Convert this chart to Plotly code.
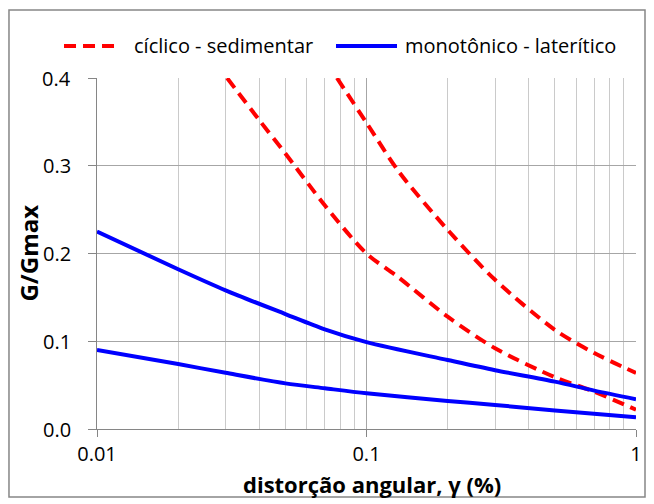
import plotly.graph_objects as go

# cyclic tests, sedimentary soil (two curves)
ciclico_1_x = [0.0304, 0.04, 0.05, 0.07, 0.1, 0.13, 0.2, 0.3, 0.5, 0.7, 1.0]
ciclico_1_y = [0.400, 0.352, 0.314, 0.255, 0.200, 0.174, 0.128, 0.092, 0.059, 0.0425, 0.022]
ciclico_2_x = [0.0777, 0.1, 0.132, 0.2, 0.3, 0.5, 0.7, 1.0]
ciclico_2_y = [0.400, 0.349, 0.293, 0.227, 0.170, 0.113, 0.0866, 0.0638]

# monotonic tests, lateritic soil (two curves)
monotonico_1_x = [0.01, 0.02, 0.03, 0.05, 0.07, 0.1, 0.2, 0.3, 0.5, 0.7, 1.0]
monotonico_1_y = [0.225, 0.182, 0.158, 0.131, 0.1136, 0.099, 0.0786, 0.067, 0.054, 0.0437, 0.034]
monotonico_2_x = [0.01, 0.02, 0.03, 0.05, 0.07, 0.1, 0.2, 0.3, 0.5, 1.0]
monotonico_2_y = [0.090, 0.074, 0.064, 0.052, 0.0464, 0.0407, 0.032, 0.0274, 0.021, 0.0133]

legend_labels = ["cíclico - sedimentar", "monotônico - laterítico"]
y_ticks = [0.0, 0.1, 0.2, 0.3, 0.4]
x_title = "<b>distorção angular, γ (%)</b>"
y_title = "<b>G/Gmax</b>"

RED = "#FF0000"
BLUE = "#0000FF"
FONT = "Open Sans"
RED_DASH = "12px,7px"

fig = go.Figure()

red_line = dict(color=RED, width=4, dash=RED_DASH, shape="spline", smoothing=0.8)
blue_line = dict(color=BLUE, width=4, shape="spline", smoothing=0.8)

fig.add_trace(go.Scatter(x=ciclico_1_x, y=ciclico_1_y, mode="lines", line=red_line,
                         name=legend_labels[0], showlegend=False))
fig.add_trace(go.Scatter(x=ciclico_2_x, y=ciclico_2_y, mode="lines", line=red_line,
                         name=legend_labels[0], showlegend=False))
fig.add_trace(go.Scatter(x=monotonico_1_x, y=monotonico_1_y, mode="lines", line=blue_line,
                         name=legend_labels[1], showlegend=False))
fig.add_trace(go.Scatter(x=monotonico_2_x, y=monotonico_2_y, mode="lines", line=blue_line,
                         name=legend_labels[1], showlegend=False))

# legend row above the plot: line keys and their labels
LEG_Y = 1.0912
shapes = [
    dict(type="line", xref="paper", yref="paper", x0=-0.0612, x1=0.039, y0=LEG_Y, y1=LEG_Y,
         line=dict(color=RED, width=4, dash=RED_DASH)),
    dict(type="line", xref="paper", yref="paper", x0=0.4434, x1=0.5566, y0=LEG_Y, y1=LEG_Y,
         line=dict(color=BLUE, width=4)),
    # chart frame
    dict(type="rect", xref="paper", yref="paper",
         x0=-0.1633, x1=1.0167, y0=-0.1937, y1=1.1937,
         line=dict(color="#868686", width=1.5), fillcolor="rgba(0,0,0,0)", layer="below"),
]
annotations = [
    dict(text=legend_labels[0], xref="paper", yref="paper", x=0.0649, y=LEG_Y,
         xanchor="left", yanchor="middle", showarrow=False,
         font=dict(family=FONT, size=20, color="black")),
    dict(text=legend_labels[1], xref="paper", yref="paper", x=0.5677, y=LEG_Y,
         xanchor="left", yanchor="middle", showarrow=False,
         font=dict(family=FONT, size=20, color="black")),
    # axis titles
    dict(text=x_title, xref="paper", yref="paper", x=0.51, y=-0.158,
         xanchor="center", yanchor="middle", showarrow=False,
         font=dict(family=FONT, size=22, color="black")),
    dict(text=y_title, xref="paper", yref="paper", x=-0.128, y=0.5, textangle=-90,
         xanchor="center", yanchor="middle", showarrow=False,
         font=dict(family=FONT, size=24, color="black")),
]
# y tick labels, set a little further from the tick marks
for v in y_ticks:
    annotations.append(dict(text=f"{v:.1f}", xref="paper", yref="y", x=-0.0445, y=v,
                            xanchor="right", yanchor="middle", showarrow=False,
                            font=dict(family=FONT, size=20, color="black")))

fig.update_layout(
    width=654, height=504,
    margin=dict(l=97, r=18, t=78, b=75),
    paper_bgcolor="white", plot_bgcolor="white",
    font=dict(family=FONT, size=20, color="black"),
    showlegend=False,
    xaxis=dict(
        type="log", range=[-2, 0], dtick=1,
        showgrid=True, gridcolor="#A6A6A6", gridwidth=1,
        minor=dict(dtick="D1", showgrid=True, gridcolor="#CACACA", gridwidth=1),
        ticks="outside", ticklen=7, tickcolor="#868686",
        showline=True, linecolor="#868686", linewidth=1,
        zeroline=False,
        tickfont=dict(family=FONT, size=20),
    ),
    yaxis=dict(
        range=[0, 0.4], tickvals=y_ticks, showticklabels=False,
        showgrid=True, gridcolor="#A6A6A6", gridwidth=1,
        ticks="outside", ticklen=8, tickcolor="#868686",
        showline=True, linecolor="#868686", linewidth=1,
        zeroline=False,
    ),
    shapes=shapes,
    annotations=annotations,
)

fig.write_html("out.html")
